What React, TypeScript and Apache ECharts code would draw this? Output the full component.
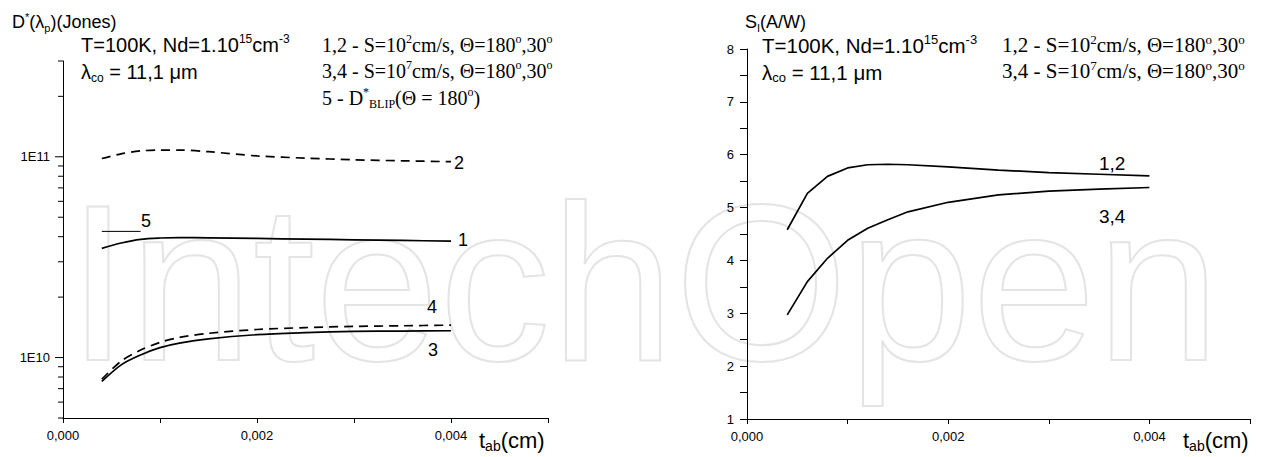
import React, { useEffect, useRef } from "react";
import * as echarts from "echarts";

// ---- Left panel: D*(λp) vs t_ab ----
const tabLeft = [0.0004, 0.0006, 0.0008, 0.001, 0.0012, 0.0015, 0.002, 0.0025, 0.003, 0.0035, 0.004];
const curve1 = [3.5e10, 3.72e10, 3.88e10, 3.94e10, 3.96e10, 3.95e10, 3.92e10, 3.89e10, 3.86e10, 3.83e10, 3.8e10];
const curve2 = [9.8e10, 1.035e11, 1.07e11, 1.08e11, 1.08e11, 1.06e11, 1.01e11, 9.85e10, 9.66e10, 9.55e10, 9.45e10];
const curve3 = [7.6e9, 9.2e9, 1.03e10, 1.12e10, 1.18e10, 1.24e10, 1.3e10, 1.33e10, 1.35e10, 1.355e10, 1.36e10];
const curve4 = [7.8e9, 9.6e9, 1.09e10, 1.19e10, 1.26e10, 1.32e10, 1.38e10, 1.41e10, 1.43e10, 1.44e10, 1.45e10];
const tab5 = [0.0004, 0.0008];
const curve5 = [4.25e10, 4.25e10];
const leftYTicks = [5e9, 6e9, 7e9, 8e9, 9e9, 1e10, 2e10, 3e10, 4e10, 5e10, 6e10, 7e10, 8e10, 9e10, 1e11, 2e11, 3e11];

// ---- Right panel: S_I vs t_ab ----
const tabRight = [0.0004, 0.0006, 0.0008, 0.001, 0.0012, 0.0014, 0.0016, 0.002, 0.0025, 0.003, 0.0035, 0.004];
const s12 = [4.58, 5.27, 5.59, 5.75, 5.81, 5.82, 5.81, 5.77, 5.71, 5.66, 5.63, 5.6];
const s34 = [2.97, 3.6, 4.04, 4.38, 4.61, 4.77, 4.92, 5.1, 5.24, 5.31, 5.35, 5.38];

const SANS = '"Liberation Sans", Arial, sans-serif';
const SERIF = '"Liberation Serif", "Times New Roman", serif';

const zip = (xs: number[], ys: number[]) => xs.map((x, i) => [x, ys[i]]);

function richSans(fs: number, lh: number) {
  return {
    a: { fontFamily: SANS, fontSize: fs, lineHeight: lh, fill: "#000" },
    sup: { fontFamily: SANS, fontSize: Math.round(fs * 0.62), lineHeight: Math.round(fs * 0.62), verticalAlign: "top", fill: "#000" },
    sub: { fontFamily: SANS, fontSize: Math.round(fs * 0.62), lineHeight: Math.round(fs * 0.62), verticalAlign: "bottom", fill: "#000" },
  };
}
function richSerif(fs: number, lh: number) {
  return {
    a: { fontFamily: SERIF, fontSize: fs, lineHeight: lh, fill: "#000" },
    sup: { fontFamily: SERIF, fontSize: Math.round(fs * 0.6), lineHeight: Math.round(fs * 0.6), verticalAlign: "top", fill: "#000" },
    sub: { fontFamily: SERIF, fontSize: Math.round(fs * 0.6), lineHeight: Math.round(fs * 0.6), verticalAlign: "bottom", fill: "#000" },
  };
}

function rtext(x: number, y: number, text: string, rich: any) {
  return {
    type: "text",
    x,
    y,
    z: 100,
    silent: true,
    style: { text, rich, align: "left", verticalAlign: "top", fill: "#000" },
  };
}
function plain(x: number, y: number, text: string, fs: number) {
  return {
    type: "text",
    x,
    y,
    z: 100,
    silent: true,
    style: { text, fontFamily: SANS, fontSize: fs, fill: "#000", align: "left", verticalAlign: "middle" },
  };
}

const fmtX = (v: number) => {
  const k = Math.round(v * 1000);
  return k % 2 === 0 ? (k / 1000).toFixed(3).replace(".", ",") : "";
};

export default function App() {
  const ref = useRef<HTMLDivElement>(null);
  useEffect(() => {
    if (!ref.current) return;
    const chart = echarts.init(ref.current, null, { renderer: "svg" });
    const axisLine = { show: true, lineStyle: { color: "#000", width: 1 } };
    const lineBase = { type: "line", showSymbol: false, symbol: "none", silent: true };
    const rs = richSans(20, 24);
    const rsR = richSans(20.5, 24);
    const rt = richSerif(20, 24);
    const rtR = richSerif(21, 24);
    const rTitle = richSans(18, 22);
    const rAxis = richSans(22, 26);

    const option: any = {
      animation: false,
      backgroundColor: "#fff",
      grid: [
        { left: 63, top: 61, width: 485, height: 357 },
        { left: 747, top: 49, width: 503, height: 370 },
      ],
      xAxis: [
        {
          type: "value", gridIndex: 0, min: 0, max: 0.005, interval: 0.001,
          axisLine, splitLine: { show: false },
          axisTick: { show: true, length: 5, lineStyle: { color: "#000" } },
          axisLabel: { formatter: fmtX, color: "#000", fontFamily: SANS, fontSize: 13, margin: 11 },
        },
        {
          type: "value", gridIndex: 1, min: 0, max: 0.005, interval: 0.001,
          axisLine, splitLine: { show: false },
          axisTick: { show: true, length: 5, lineStyle: { color: "#000" } },
          axisLabel: { formatter: fmtX, color: "#000", fontFamily: SANS, fontSize: 13, margin: 11 },
        },
      ],
      yAxis: [
        {
          type: "log", logBase: 10, gridIndex: 0, min: 5e9, max: 3e11,
          axisLine, splitLine: { show: false }, axisTick: { show: false },
          axisLabel: {
            color: "#000", fontFamily: SANS, fontSize: 13, margin: 13,
            formatter: (v: number) => {
              const l = Math.log10(v);
              return Math.abs(l - Math.round(l)) < 1e-6 ? "1E" + Math.round(l) : "";
            },
          },
        },
        {
          type: "value", gridIndex: 1, min: 1, max: 8, interval: 0.5,
          axisLine, splitLine: { show: false },
          axisTick: { show: true, length: 7, lineStyle: { color: "#000" } },
          axisLabel: {
            color: "#000", fontFamily: SANS, fontSize: 13, margin: 13,
            formatter: (v: number) => (Math.abs(v - Math.round(v)) < 1e-6 ? String(Math.round(v)) : ""),
          },
        },
      ],
      series: [
        {
          type: "custom", xAxisIndex: 0, yAxisIndex: 0, clip: false, silent: true, z: 3,
          data: leftYTicks.map((v) => [0, v]),
          renderItem: (params: any, api: any) => {
            const v = api.value(1);
            const p = api.coord([api.value(0), v]);
            const l = Math.log10(v);
            const major = Math.abs(l - Math.round(l)) < 1e-6;
            const len = major ? 8 : 5;
            return {
              type: "line",
              shape: { x1: p[0] - len, y1: p[1], x2: p[0], y2: p[1] },
              style: { stroke: "#000", lineWidth: 1 },
            };
          },
        },
        { ...lineBase, name: "1", xAxisIndex: 0, yAxisIndex: 0, data: zip(tabLeft, curve1), smooth: 0.3, lineStyle: { color: "#000", width: 1.7 } },
        { ...lineBase, name: "2", xAxisIndex: 0, yAxisIndex: 0, data: zip(tabLeft, curve2), smooth: 0.3, lineStyle: { color: "#000", width: 1.7, type: [9, 6] } },
        { ...lineBase, name: "3", xAxisIndex: 0, yAxisIndex: 0, data: zip(tabLeft, curve3), smooth: 0.3, lineStyle: { color: "#000", width: 1.7 } },
        { ...lineBase, name: "4", xAxisIndex: 0, yAxisIndex: 0, data: zip(tabLeft, curve4), smooth: 0.3, lineStyle: { color: "#000", width: 1.7, type: [9, 6] } },
        { ...lineBase, name: "5", xAxisIndex: 0, yAxisIndex: 0, data: zip(tab5, curve5), lineStyle: { color: "#000", width: 1 } },
        { ...lineBase, name: "1,2", xAxisIndex: 1, yAxisIndex: 1, data: zip(tabRight, s12), lineStyle: { color: "#000", width: 1.7 } },
        { ...lineBase, name: "3,4", xAxisIndex: 1, yAxisIndex: 1, data: zip(tabRight, s34), lineStyle: { color: "#000", width: 1.7 } },
      ],
      graphic: [
        {
          type: "text", x: 67, y: 282, z: -10, silent: true,
          style: {
            text: "IntechOpen", fontFamily: SANS, fontSize: 223, fill: "none",
            stroke: "#e4e4e4", lineWidth: 2, align: "left", verticalAlign: "middle",
          },
        },
        // Left panel texts
        rtext(12, 11, "{a|D}{sup|*}{a|(λ}{sub|p}{a|)(Jones)}", rTitle),
        rtext(81, 33, "{a|T=100K, Nd=1.10}{sup|15}{a|cm}{sup|-3}", rs),
        rtext(81, 60, "{a|λ}{sub|co}{a| = 11,1 μm}", rs),
        rtext(322, 33, "{a|1,2 - S=10}{sup|2}{a|cm/s, Θ=180}{sup|o}{a|,30}{sup|o}", rt),
        rtext(322, 59, "{a|3,4 - S=10}{sup|7}{a|cm/s, Θ=180}{sup|o}{a|,30}{sup|o}", rt),
        rtext(322, 86, "{a|5 - D}{sup|*}{sub|BLIP}{a|(Θ = 180}{sup|o}{a|)}", rt),
        rtext(479, 427, "{a|t}{sub|ab}{a|(cm)}", rAxis),
        plain(454, 163, "2", 18),
        plain(458, 240, "1", 18),
        plain(141, 221, "5", 18),
        plain(427, 307, "4", 18),
        plain(428, 350, "3", 18),
        // Right panel texts
        rtext(745, 11, "{a|S}{sub|I}{a|(A/W)}", rTitle),
        rtext(762, 33, "{a|T=100K, Nd=1.10}{sup|15}{a|cm}{sup|-3}", rsR),
        rtext(762, 60, "{a|λ}{sub|co}{a| = 11,1 μm}", rsR),
        rtext(1002, 33, "{a|1,2 - S=10}{sup|2}{a|cm/s, Θ=180}{sup|o}{a|,30}{sup|o}", rtR),
        rtext(1002, 59, "{a|3,4 - S=10}{sup|7}{a|cm/s, Θ=180}{sup|o}{a|,30}{sup|o}", rtR),
        rtext(1183, 427, "{a|t}{sub|ab}{a|(cm)}", rAxis),
        plain(1099, 163, "1,2", 19),
        plain(1099, 216, "3,4", 19),
      ],
    };
    chart.setOption(option);
    return () => chart.dispose();
  }, []);
  return <div ref={ref} style={{ position: "absolute", left: 0, top: 0, width: 1263, height: 457 }} />;
}
